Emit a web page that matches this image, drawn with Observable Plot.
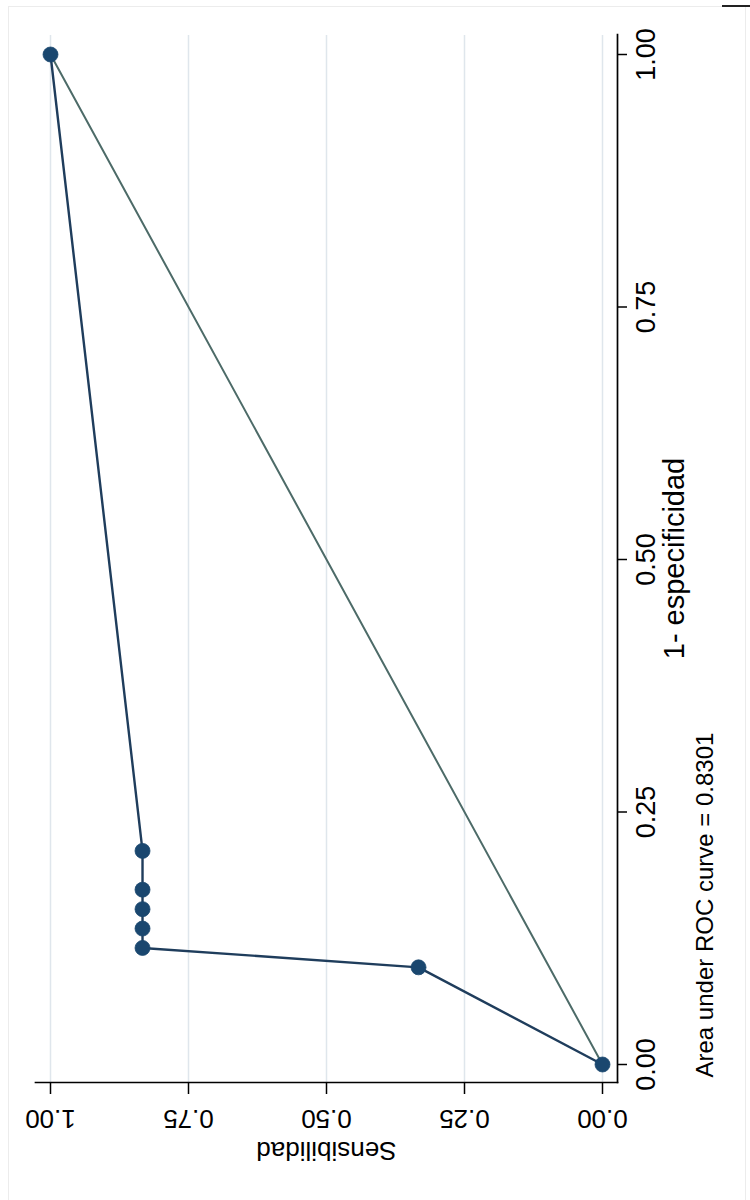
<!DOCTYPE html>
<html>
<head>
<meta charset="utf-8">
<script src="https://cdn.jsdelivr.net/npm/d3@7"></script>
<script src="https://cdn.jsdelivr.net/npm/@observablehq/plot@0.6"></script>
<style>
  html, body { margin: 0; padding: 0; background: #ffffff; }
  #page { position: relative; width: 750px; height: 1200px; overflow: hidden; background: #ffffff; }
  #chart { position: absolute; left: 0; top: 0; width: 750px; height: 1200px; }
  #chart svg { position: absolute; left: 0; top: 0; width: 1200px !important; height: 750px !important; max-width: none !important;
    transform-origin: 0 0; transform: translate(0px, 1200px) rotate(-90deg); }
  #outline { position: absolute; left: 8px; top: 6px; width: 738px; height: 1210px; border: 1px solid #ececec; box-sizing: border-box; pointer-events: none; }
  #mark { position: absolute; left: 722px; top: 5px; width: 28px; height: 2px; background: #222; }
</style>
</head>
<body>
<div id="page">
  <div id="chart"></div>
  <div id="outline"></div>
  <div id="mark"></div>
</div>
<script>
// ROC points (1 - specificity, sensitivity)
const fpr  = [0, 0.0962, 0.1154, 0.1346, 0.1538, 0.1731, 0.2115, 1];
const sens = [0, 0.3333, 0.8333, 0.8333, 0.8333, 0.8333, 0.8333, 1];
// reference diagonal
const refFpr  = [0, 1];
const refSens = [0, 1];
// ticks
const fprTicks  = [0, 0.25, 0.5, 0.75, 1];
const sensTicks = [0, 0.25, 0.5, 0.75, 1];
const tickLabels = ["0.00", "0.25", "0.50", "0.75", "1.00"];
// texts
const xTitle = "1- especificidad";
const yTitle = "Sensibilidad";
const note = "Area under ROC curve = 0.8301";

const roc = fpr.map((f, i) => ({fpr: f, sens: sens[i]}));
const ref = refFpr.map((f, i) => ({fpr: f, sens: refSens[i]}));

const navy = "#1a476f";
const lineNavy = "#1f3d5c";
const refColor = "#4d6b68";
const font = "'Liberation Sans', Arial, Helvetica, sans-serif";

const chart = Plot.plot({
  width: 1200,
  height: 750,
  marginLeft: 117,
  marginRight: 35,
  marginTop: 35,
  marginBottom: 133,
  x: {domain: [0, 1], insetLeft: 18, insetRight: 20},
  y: {domain: [0, 1], insetTop: 15, insetBottom: 15},
  style: {fontFamily: font, background: "#ffffff", color: "#000000"},
  marks: [
    Plot.gridY(sensTicks, {stroke: "#dfe6ec", strokeOpacity: 1, strokeWidth: 1.5}),
    Plot.frame({anchor: "left", stroke: "#000", strokeWidth: 1.7}),
    Plot.frame({anchor: "bottom", stroke: "#000", strokeWidth: 1.7}),
    Plot.axisY({ticks: sensTicks, tickSize: 11, strokeWidth: 1.5, fill: "none", label: null}),
    Plot.axisX({ticks: fprTicks, tickSize: 10, strokeWidth: 1.5, fill: "none", label: null}),
    Plot.line(ref, {x: "fpr", y: "sens", stroke: refColor, strokeWidth: 2}),
    Plot.line(roc, {x: "fpr", y: "sens", stroke: lineNavy, strokeWidth: 2.4}),
    Plot.dot(roc, {x: "fpr", y: "sens", r: 7.5, fill: navy, stroke: navy, strokeWidth: 0.8}),
    // y (sensitivity) tick labels, vertical
    Plot.text(sensTicks, {y: d => d, text: (d, i) => tickLabels[i], frameAnchor: "left", dx: -36,
      rotate: -90, fontSize: 26, textAnchor: "middle", lineAnchor: "middle", fill: "#000"}),
    Plot.text([yTitle], {text: d => d, frameAnchor: "left", dx: -68, rotate: -90, fontSize: 26,
      textAnchor: "middle", lineAnchor: "middle", fill: "#000"}),
    // x (1 - specificity) tick labels
    Plot.text(fprTicks, {x: d => d, text: (d, i) => tickLabels[i], frameAnchor: "bottom", dy: 29,
      fontSize: 27, textAnchor: "middle", lineAnchor: "middle", fill: "#000"}),
    Plot.text([xTitle], {text: d => d, frameAnchor: "bottom", dy: 57, fontSize: 29,
      textAnchor: "middle", lineAnchor: "middle", fill: "#000"}),
    Plot.text([note], {text: d => d, frameAnchor: "bottom-left", dx: 5, dy: 88, fontSize: 24,
      textAnchor: "start", lineAnchor: "middle", fill: "#000"})
  ]
});

document.getElementById("chart").appendChild(chart);
</script>
</body>
</html>
